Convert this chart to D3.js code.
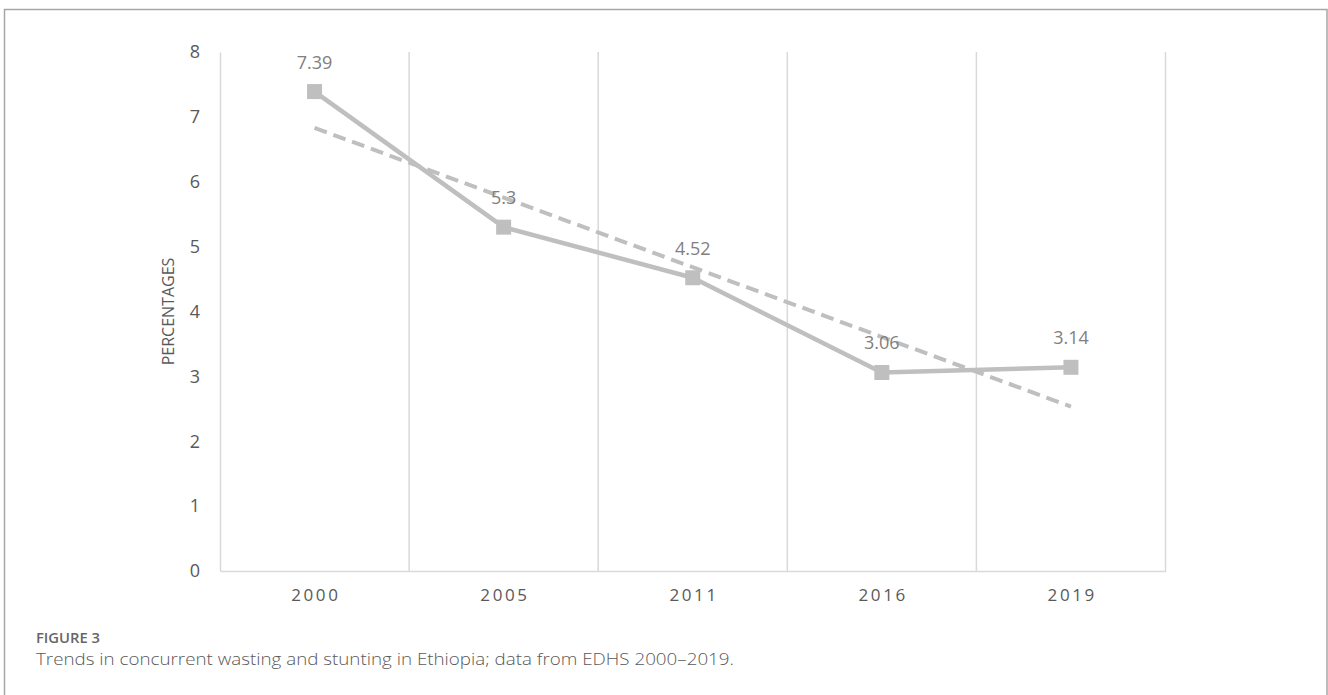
<!DOCTYPE html>
<html>
<head>
<meta charset="utf-8">
<script src="https://cdn.jsdelivr.net/npm/d3@7"></script>
<style>
  html, body { margin: 0; padding: 0; background: #fff; }
  svg { display: block; }
</style>
</head>
<body>
<svg id="chart" width="1328" height="695"></svg>
<script>
// Survey rounds and concurrent wasting + stunting prevalence (%)
const years = ["2000", "2005", "2011", "2016", "2019"];
const values = [7.39, 5.3, 4.52, 3.06, 3.14];
const yTicks = [0, 1, 2, 3, 4, 5, 6, 7, 8];
const yTitle = "PERCENTAGES";
const figLabel = "FIGURE 3";
const figCaption = "Trends in concurrent wasting and stunting in Ethiopia; data from EDHS 2000\u20132019.";

const svg = d3.select("#chart");
const plot = { left: 220, right: 1165.5, top: 52, bottom: 571 };

// Figure frame
svg.append("rect")
  .attr("x", 4.5).attr("y", 9.5)
  .attr("width", 1322.5).attr("height", 720)
  .attr("fill", "none").attr("stroke", "#a6a6a6").attr("stroke-width", 1.5);

const x = d3.scaleBand().domain(years).range([plot.left, plot.right]).padding(0);
const y = d3.scaleLinear().domain([0, 8]).range([plot.bottom, plot.top]);
const cx = d => x(d) + x.bandwidth() / 2;

const grid = "#d9d9d9";

// Vertical gridlines at category boundaries
const edges = years.map(d => x(d) + x.bandwidth());
svg.append("g").selectAll("line").data(edges).join("line")
  .attr("x1", d => d).attr("x2", d => d)
  .attr("y1", y(8)).attr("y2", y(0))
  .attr("stroke", grid).attr("stroke-width", 1.5);

// Left axis
const yAxis = svg.append("g")
  .attr("transform", `translate(${plot.left},0)`)
  .call(d3.axisLeft(y).tickValues(yTicks).tickSize(0).tickPadding(20).tickFormat(d3.format("d")));
yAxis.select(".domain").attr("stroke", grid).attr("stroke-width", 1.5);
yAxis.selectAll("text")
  .attr("font-family", "'Open Sans', sans-serif")
  .attr("font-size", 18).attr("fill", "#595959");

// Bottom axis
const xAxis = svg.append("g")
  .attr("transform", `translate(0,${plot.bottom})`)
  .call(d3.axisBottom(x).tickSize(0).tickPadding(18));
xAxis.select(".domain").attr("stroke", grid).attr("stroke-width", 1.5);
xAxis.selectAll("text")
  .attr("font-family", "'Open Sans', sans-serif")
  .attr("font-size", 17).attr("fill", "#595959")
  .attr("letter-spacing", "2.6px")
  .attr("dx", "1.3px");

// Y axis title
svg.append("text")
  .attr("transform", `translate(174,${(plot.top + plot.bottom) / 2}) rotate(-90)`)
  .attr("text-anchor", "middle")
  .attr("font-family", "'Open Sans', sans-serif")
  .attr("font-size", 16).attr("fill", "#595959")
  .text(yTitle);

const seriesColor = "#bfbfbf";

// Linear trendline fitted to the series
const n = values.length;
const idx = d3.range(1, n + 1);
const mx = d3.mean(idx), my = d3.mean(values);
const slope = d3.sum(idx, (t, i) => (t - mx) * (values[i] - my)) / d3.sum(idx, t => (t - mx) ** 2);
const intercept = my - slope * mx;
const trend = years.map((yr, i) => ({ yr, v: intercept + slope * idx[i] }));
const trendEnds = [trend[0], trend[n - 1]];

svg.append("path")
  .datum(trendEnds)
  .attr("d", d3.line().x(d => cx(d.yr)).y(d => y(d.v)))
  .attr("fill", "none").attr("stroke", seriesColor)
  .attr("stroke-width", 4).attr("stroke-dasharray", "13,7");

// Series line
const pts = years.map((yr, i) => ({ yr, v: values[i] }));
svg.append("path")
  .datum(pts)
  .attr("d", d3.line().x(d => cx(d.yr)).y(d => y(d.v)))
  .attr("fill", "none").attr("stroke", seriesColor)
  .attr("stroke-width", 4.5).attr("stroke-linejoin", "round");

// Square markers
const m = 15;
svg.append("g").selectAll("rect").data(pts).join("rect")
  .attr("x", d => cx(d.yr) - m / 2).attr("y", d => y(d.v) - m / 2)
  .attr("width", m).attr("height", m)
  .attr("fill", seriesColor);

// Data labels
svg.append("g").selectAll("text").data(pts).join("text")
  .attr("x", d => cx(d.yr)).attr("y", d => y(d.v) - 23)
  .attr("text-anchor", "middle")
  .attr("font-family", "'Open Sans', sans-serif")
  .attr("font-size", 18).attr("fill", "#7f7f7f")
  .text(d => d.v);

// Caption
svg.append("text")
  .attr("x", 36).attr("y", 643)
  .attr("font-family", "'Open Sans', sans-serif")
  .attr("font-size", 14.5).attr("font-weight", 600).attr("fill", "#666")
  .attr("textLength", 64).attr("lengthAdjust", "spacingAndGlyphs")
  .text(figLabel);
svg.append("text")
  .attr("x", 36).attr("y", 665)
  .attr("font-family", "'Open Sans', sans-serif")
  .attr("font-size", 16.5).attr("font-weight", 300).attr("fill", "#595959")
  .attr("textLength", 698).attr("lengthAdjust", "spacingAndGlyphs")
  .text(figCaption);
</script>
</body>
</html>
